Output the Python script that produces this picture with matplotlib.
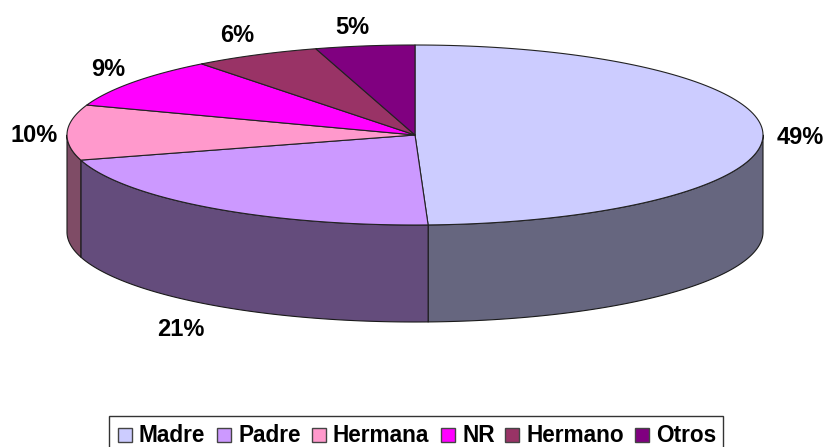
import numpy as np
import matplotlib
matplotlib.use("Agg")
import matplotlib.pyplot as plt
from matplotlib.patches import Rectangle

categories = ["Madre", "Padre", "Hermana", "NR", "Hermano", "Otros"]
shares = [49.4, 21.1, 9.9, 9.1, 5.9, 4.6]
pct_labels = ["49%", "21%", "10%", "9%", "6%", "5%"]
colors = ["#CCCCFF", "#CC99FF", "#FF99CC", "#FF00FF", "#993366", "#800080"]
side_colors = ["#66667F", "#644C7C", "#7F4C66", "#7F007F", "#4C1933", "#400040"]

W, H = 825, 447
CX, CY = 415, 135
RX, RY = 348, 90
DEPTH = 97

# pixel-like coordinates, y goes down
plt.rcParams['font.family'] = ['Liberation Sans', 'DejaVu Sans']
fig = plt.figure(figsize=(W/100, H/100), dpi=100)
ax = fig.add_axes([0, 0, 1, 1])
ax.set_xlim(0, W)
ax.set_ylim(H, 0)
ax.axis("off")


def rim(a0, a1, n=120):
    # a = clockwise angle from 12 o'clock, in degrees
    t = np.radians(np.linspace(a0, a1, n))
    return CX + RX*np.sin(t), CY - RY*np.cos(t)


edges = np.concatenate(([0], np.cumsum(shares))) / sum(shares) * 360

# sides: only the part of the rim facing the viewer (90..270 deg)
for i in range(len(shares)):
    a0 = max(edges[i], 90)
    a1 = min(edges[i+1], 270)
    if a1 <= a0:
        continue
    x, y = rim(a0, a1)
    xs = np.concatenate((x, x[::-1]))
    ys = np.concatenate((y, y[::-1] + DEPTH))
    ax.fill(xs, ys, facecolor=side_colors[i], edgecolor="#1a1a1a", lw=0.8, joinstyle="round")

# top
for i in range(len(shares)):
    x, y = rim(edges[i], edges[i+1])
    xs = np.concatenate(([CX], x))
    ys = np.concatenate(([CY], y))
    ax.fill(xs, ys, facecolor=colors[i], edgecolor="#222222", lw=0.8, joinstyle="round")

# data labels
label_pos = [(800, 137), (181, 330), (34, 135), (108, 69), (237, 35), (352, 27)]
for txt, (lx, ly) in zip(pct_labels, label_pos):
    ax.text(lx, ly, txt, fontsize=17, fontweight="bold", color="black", ha="center", va="center")

# legend
ax.add_patch(Rectangle((109, 416), 614, 40, facecolor="white", edgecolor="#333333", lw=1))
legend_x = [(118, 139), (217, 239), (312, 333), (441, 463), (505, 527), (635, 656)]
for name, c, (bx, tx) in zip(categories, colors, legend_x):
    ax.add_patch(Rectangle((bx, 428), 14, 14, facecolor=c, edgecolor="#444444", lw=1))
    ax.text(tx, 435, name, fontsize=16.3, fontweight="bold", ha="left", va="center")

fig.savefig("out.png", dpi=100)
